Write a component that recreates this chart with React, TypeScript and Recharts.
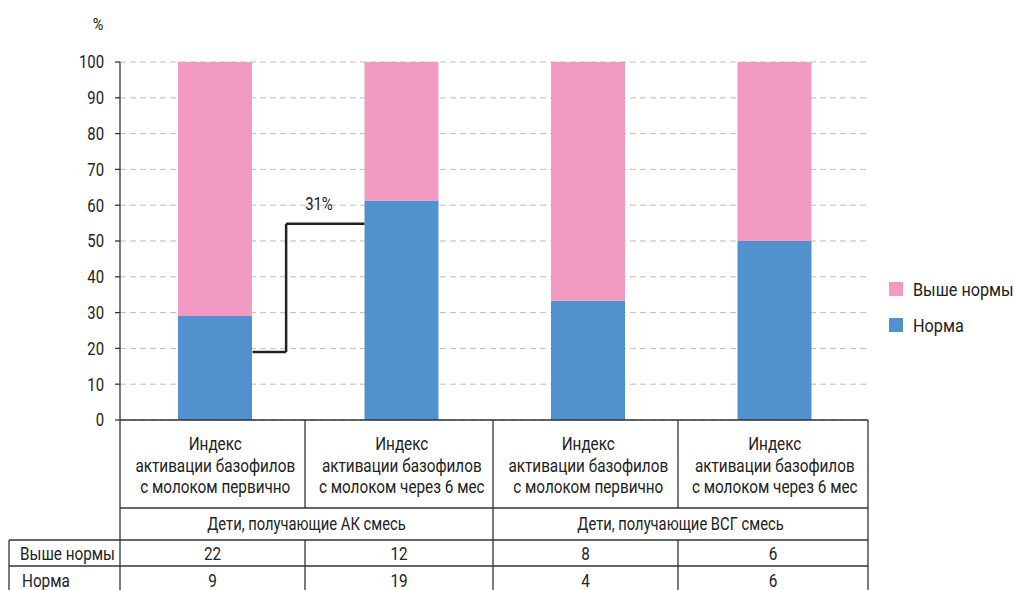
import {
  BarChart,
  Bar,
  XAxis,
  YAxis,
  CartesianGrid,
  Legend,
  ReferenceLine,
  ReferenceDot,
} from "recharts";

// Basophil activation index, children on two formula types
const categoryIds = ["ak-start", "ak-6m", "vsg-start", "vsg-6m"];
const categoryLabels = [
  ["Индекс", "активации базофилов", "с молоком первично"],
  ["Индекс", "активации базофилов", "с молоком через 6 мес"],
  ["Индекс", "активации базофилов", "с молоком первично"],
  ["Индекс", "активации базофилов", "с молоком через 6 мес"],
];
const groupLabels = ["Дети, получающие АК смесь", "Дети, получающие ВСГ смесь"];
const aboveCounts = [22, 12, 8, 6];
const normCounts = [9, 19, 4, 6];
const yTicks = [0, 0.1, 0.2, 0.3, 0.4, 0.5, 0.6, 0.7, 0.8, 0.9, 1];

// step connector between the first two bars
// x: category index (0 = centre of first bar), y: share of bar height
const stepX = [0.2, 0.38, 0.8];
const stepY = [0.19, 0.548];
const stepLabel = { x: 0.556, y: 0.603, text: "31%" };

const PINK = "#f39ac2";
const BLUE = "#5191ce";
const INK = "#222";
const LINE = "#333";
const FONT = "Roboto, 'Liberation Sans', sans-serif";
// narrow look: Roboto squeezed horizontally
const SQUEEZE = 0.85;

const W = 1014;
const H = 590;
const PLOT_LEFT = 120;
const PLOT_RIGHT = 868;
const PLOT_TOP = 62;
const PLOT_BOTTOM = 420;
const AXIS_PAD = 2;
const BAND = (PLOT_RIGHT - PLOT_LEFT - AXIS_PAD) / categoryIds.length;

// table grid under the chart
const colEdges = [120, 305, 493, 678, 868];
const ROW_CAT_END = 508;
const ROW_GROUP_END = 540;
const ROW_ABOVE_END = 566;
const TABLE_LEFT = 9;
const catBaselines = [450, 471.5, 493];

const data = categoryIds.map((id, i) => ({
  id,
  norm: normCounts[i],
  above: aboveCounts[i],
}));

const series = [
  { name: "Выше нормы", color: PINK },
  { name: "Норма", color: BLUE },
];

type CTextProps = {
  x: number;
  y: number;
  anchor?: "start" | "middle" | "end";
  size?: number;
  sx?: number;
  dy?: string;
  children: any;
};

function CText({ x, y, anchor = "start", size = 18, sx = SQUEEZE, dy, children }: CTextProps) {
  return (
    <text
      transform={`translate(${x},${y}) scale(${sx},1)`}
      textAnchor={anchor}
      dy={dy}
      fill={INK}
      fontSize={size}
      fontFamily={FONT}
    >
      {children}
    </text>
  );
}

function CategoryTick(props: any) {
  const { x, payload } = props;
  const lines = categoryLabels[categoryIds.indexOf(payload.value)] || [];
  return (
    <g>
      {lines.map((l, i) => (
        <CText key={i} x={x} y={catBaselines[i]} anchor="middle">
          {l}
        </CText>
      ))}
    </g>
  );
}

function ValueTick(props: any) {
  const { x, y, payload } = props;
  return (
    <CText x={x} y={y} anchor="end" size={17.5} dy="0.36em">
      {String(Math.round(payload.value * 100))}
    </CText>
  );
}

function LegendBox() {
  return (
    <div
      style={{
        fontFamily: FONT,
        fontSize: 18,
        color: INK,
        whiteSpace: "nowrap",
      }}
    >
      {series.map((s) => (
        <div
          key={s.name}
          style={{ display: "flex", alignItems: "center", height: 36 }}
        >
          <span
            style={{
              width: 14,
              height: 14,
              background: s.color,
              marginRight: 10,
              display: "inline-block",
              flex: "none",
            }}
          />
          <span
            style={{
              display: "inline-block",
              transform: "scaleX(0.9)",
              transformOrigin: "left center",
            }}
          >
            {s.name}
          </span>
        </div>
      ))}
    </div>
  );
}

function Table() {
  const mid = (a: number, b: number) => (a + b) / 2;
  return (
    <svg
      width={W}
      height={H}
      style={{ position: "absolute", left: 0, top: 0, pointerEvents: "none" }}
    >
      <g stroke={LINE} strokeWidth={1.3}>
        <line x1={PLOT_LEFT} x2={PLOT_RIGHT} y1={ROW_CAT_END} y2={ROW_CAT_END} />
        <line x1={TABLE_LEFT} x2={PLOT_RIGHT} y1={ROW_GROUP_END} y2={ROW_GROUP_END} />
        <line x1={TABLE_LEFT} x2={PLOT_RIGHT} y1={ROW_ABOVE_END} y2={ROW_ABOVE_END} />
        <line x1={TABLE_LEFT} x2={TABLE_LEFT} y1={ROW_GROUP_END} y2={H} />
        {colEdges.map((x, i) =>
          i === 0 || i === 2 || i === colEdges.length - 1 ? (
            <line key={x} x1={x} x2={x} y1={PLOT_BOTTOM} y2={H} />
          ) : (
            <g key={x}>
              <line x1={x} x2={x} y1={PLOT_BOTTOM} y2={ROW_CAT_END} />
              <line x1={x} x2={x} y1={ROW_GROUP_END} y2={H} />
            </g>
          ),
        )}
      </g>
      {groupLabels.map((g, i) => (
        <CText
          key={g}
          x={mid(colEdges[i * 2], colEdges[i * 2 + 2])}
          y={530}
          anchor="middle"
          sx={0.82}
        >
          {g}
        </CText>
      ))}
      <CText x={20} y={560}>
        {series[0].name}
      </CText>
      <CText x={22} y={587}>
        {series[1].name}
      </CText>
      {aboveCounts.map((v, i) => (
        <CText key={"a" + i} x={mid(colEdges[i], colEdges[i + 1])} y={560} anchor="middle">
          {v}
        </CText>
      ))}
      {normCounts.map((v, i) => (
        <CText key={"n" + i} x={mid(colEdges[i], colEdges[i + 1])} y={587} anchor="middle">
          {v}
        </CText>
      ))}
    </svg>
  );
}

export default function App() {
  const stepStyle = { stroke: INK, strokeWidth: 2.5 };
  return (
    <div
      style={{
        position: "absolute",
        left: 0,
        top: 0,
        width: W,
        height: H,
        background: "#fff",
      }}
    >
      <BarChart
        width={W}
        height={H}
        data={data}
        stackOffset="expand"
        margin={{
          top: PLOT_TOP,
          right: W - PLOT_RIGHT,
          bottom: H - PLOT_BOTTOM - 1,
          left: PLOT_LEFT - 60,
        }}
      >
        <CartesianGrid
          vertical={false}
          stroke="#bdbdbd"
          strokeDasharray="6 4"
        />
        <XAxis
          dataKey="id"
          height={1}
          interval={0}
          tickLine={false}
          axisLine={{ stroke: LINE, strokeWidth: 1.3 }}
          tick={<CategoryTick />}
          padding={{ left: AXIS_PAD, right: 0 }}
        />
        {/* index axis: 0..3 mapped onto the bar centres */}
        <XAxis
          xAxisId="step"
          type="number"
          domain={[0, categoryIds.length - 1]}
          allowDataOverflow
          hide
          padding={{ left: AXIS_PAD + BAND / 2, right: BAND / 2 }}
        />
        <YAxis
          width={60}
          domain={[0, 1]}
          ticks={yTicks}
          interval={0}
          axisLine={{ stroke: LINE, strokeWidth: 1.3 }}
          tickLine={{ stroke: LINE, strokeWidth: 1.3 }}
          tickSize={5}
          tickMargin={11}
          tick={<ValueTick />}
          label={{
            value: "%",
            content: ({ viewBox }: any) => (
              <CText
                x={viewBox.x + viewBox.width - 22}
                y={viewBox.y - 32}
                anchor="middle"
                size={17}
              >
                %
              </CText>
            ),
          }}
        />
        <Bar
          dataKey="norm"
          name={series[1].name}
          stackId="s"
          fill={BLUE}
          barSize={74}
          isAnimationActive={false}
        />
        <Bar
          dataKey="above"
          name={series[0].name}
          stackId="s"
          fill={PINK}
          barSize={74}
          isAnimationActive={false}
        />
        <ReferenceLine
          xAxisId="step"
          segment={[
            { x: stepX[0], y: stepY[0] },
            { x: stepX[1], y: stepY[0] },
          ]}
          {...stepStyle}
        />
        <ReferenceLine
          xAxisId="step"
          segment={[
            { x: stepX[1], y: stepY[0] },
            { x: stepX[1], y: stepY[1] },
          ]}
          {...stepStyle}
        />
        <ReferenceLine
          xAxisId="step"
          segment={[
            { x: stepX[1], y: stepY[1] },
            { x: stepX[2], y: stepY[1] },
          ]}
          {...stepStyle}
        />
        <ReferenceDot
          xAxisId="step"
          x={stepLabel.x}
          y={stepLabel.y}
          r={0}
          fill="none"
          stroke="none"
          label={{
            value: stepLabel.text,
            content: ({ viewBox }: any) => (
              <CText
                x={viewBox.x + (viewBox.width || 0) / 2}
                y={viewBox.y + (viewBox.height || 0) / 2}
                anchor="middle"
                size={17.5}
                dy="0.36em"
              >
                {stepLabel.text}
              </CText>
            ),
          }}
        />
        <Legend
          verticalAlign="middle"
          layout="horizontal"
          content={() => <LegendBox />}
          wrapperStyle={{ left: 889, top: 271, width: 125, height: 72 }}
        />
      </BarChart>
      <Table />
    </div>
  );
}
